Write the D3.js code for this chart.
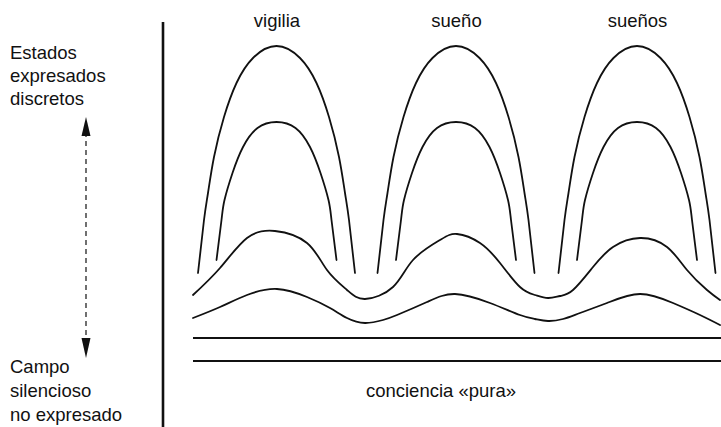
<!DOCTYPE html>
<html>
<head>
<meta charset="utf-8">
<script src="https://cdn.jsdelivr.net/npm/d3@7"></script>
<style>
  body { margin: 0; background: #fff; }
  svg text { font-family: "Liberation Sans", Arial, Helvetica, sans-serif; font-size: 18.5px; fill: #111; }
</style>
</head>
<body>
<svg id="chart" width="721" height="427"></svg>
<script>
// Estados (etiquetas de arriba) y centros de cada estado
var estados = ['vigilia', 'sueño', 'sueños'];
var centros = [89.5, 269, 450];

// Perfil de los arcos: nivel y semiancho (mitad izquierda, de la base a la cima)
var arcoExtNivel = [88, 141, 168, 204, 244, 278, 303, 315];
var arcoExtAncho = [78.5, 72.5, 68.5, 62.5, 52.5, 40, 23.5, 0];
var arcoIntNivel = [101, 141, 161, 188, 214, 233, 239];
var arcoIntAncho = [60, 55, 52, 44, 33.5, 19, 0];

// Onda superior
var onda1X = [6, 33, 60, 88, 120, 140, 160, 178, 206, 226, 253, 270, 293, 313, 333, 348, 361, 373, 386, 406, 426, 453, 480, 500, 520, 533];
var onda1Y = [66, 93, 123, 130, 118, 91, 71, 62, 74, 101, 121, 127, 118, 98, 74, 66, 63, 65, 71, 94, 114, 123, 114, 91, 71, 61];
// Onda inferior
var onda2X = [6, 33, 60, 90, 120, 143, 160, 178, 196, 210, 240, 268, 303, 333, 348, 361, 376, 393, 420, 453, 486, 513, 533];
var onda2Y = [43, 54, 66, 72, 64, 53, 43, 38, 41, 46, 59, 67, 58, 46, 42, 40, 42, 48, 58, 67, 58, 46, 36];

// Lineas planas (conciencia pura)
var planos = [23, 0];
var planoX = [6, 534];

var textoArriba = ['Estados', 'expresados', 'discretos'];
var textoAbajo = ['Campo', 'silencioso', 'no expresado'];

var svg = d3.select('#chart');
var x = d3.scaleLinear().domain([0, 540]).range([187, 727]);
var y = d3.scaleLinear().domain([0, 320]).range([361, 41]);

var linea = d3.line()
    .x(function (d) { return x(d[0]); })
    .y(function (d) { return y(d[1]); })
    .curve(d3.curveNatural);

function trazo(puntos) {
    svg.append('path')
        .attr('d', linea(puntos))
        .attr('fill', 'none')
        .attr('stroke', '#111')
        .attr('stroke-width', 1.8)
        .attr('stroke-linecap', 'round');
}

// arco completo a partir de su mitad izquierda
function arco(c, niveles, anchos) {
    var pts = [];
    for (var i = 0; i < niveles.length; i++) pts.push([c - anchos[i], niveles[i]]);
    for (var j = niveles.length - 2; j >= 0; j--) pts.push([c + anchos[j], niveles[j]]);
    return pts;
}

// eje vertical
svg.append('line')
    .attr('x1', 163).attr('x2', 163)
    .attr('y1', 22).attr('y2', 427)
    .attr('stroke', '#111').attr('stroke-width', 2.6);

// arcos
centros.forEach(function (c) {
    trazo(arco(c, arcoExtNivel, arcoExtAncho));
    trazo(arco(c, arcoIntNivel, arcoIntAncho));
});

// ondas
trazo(d3.zip(onda1X, onda1Y));
trazo(d3.zip(onda2X, onda2Y));

// lineas planas
planos.forEach(function (p) {
    svg.append('line')
        .attr('x1', x(planoX[0])).attr('x2', x(planoX[1]))
        .attr('y1', y(p)).attr('y2', y(p))
        .attr('stroke', '#111').attr('stroke-width', 1.8);
});

// etiquetas de los estados
svg.selectAll('.estado').data(estados).enter().append('text')
    .attr('class', 'estado')
    .attr('x', function (d, i) { return x(centros[i]) + 0.5; })
    .attr('y', 27)
    .attr('text-anchor', 'middle')
    .text(function (d) { return d; });

svg.append('text')
    .attr('x', x(254)).attr('y', 397)
    .attr('text-anchor', 'middle')
    .text('conciencia «pura»');

// textos de la izquierda
svg.selectAll('.arriba').data(textoArriba).enter().append('text')
    .attr('x', 10).attr('y', function (d, i) { return 59 + i * 23; })
    .text(function (d) { return d; });
svg.selectAll('.abajo').data(textoAbajo).enter().append('text')
    .attr('x', 10).attr('y', function (d, i) { return 373 + i * 24; })
    .text(function (d) { return d; });

// flecha doble punteada
var ax = 86;
svg.append('line')
    .attr('x1', ax).attr('x2', ax).attr('y1', 132).attr('y2', 342)
    .attr('stroke', '#111').attr('stroke-width', 1.2)
    .attr('stroke-dasharray', '5,4');
svg.append('path')
    .attr('d', 'M' + ax + ',117 L' + (ax - 4.5) + ',136 L' + (ax + 4.5) + ',136 Z')
    .attr('fill', '#111');
svg.append('path')
    .attr('d', 'M' + ax + ',358 L' + (ax - 4.5) + ',338 L' + (ax + 4.5) + ',338 Z')
    .attr('fill', '#111');
</script>
</body>
</html>
